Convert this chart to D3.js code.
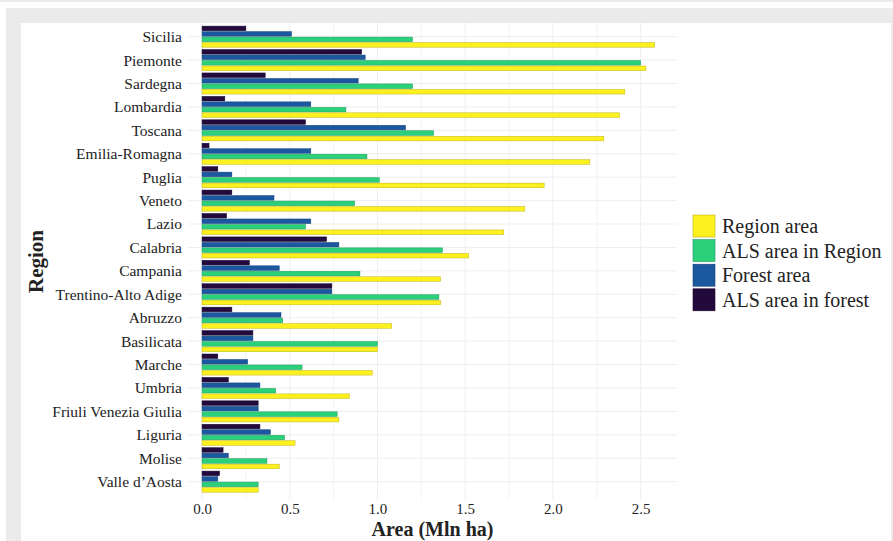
<!DOCTYPE html>
<html>
<head>
<meta charset="utf-8">
<script src="https://cdn.jsdelivr.net/npm/d3@7"></script>
<style>
  body { margin: 0; background: #fff; }
  text { font-family: "Liberation Serif", "Times New Roman", serif; fill: #222; }
</style>
</head>
<body>
<svg id="chart"></svg>
<script>
const regions = ['Sicilia','Piemonte','Sardegna','Lombardia','Toscana','Emilia-Romagna','Puglia','Veneto','Lazio','Calabria','Campania','Trentino-Alto Adige','Abruzzo','Basilicata','Marche','Umbria','Friuli Venezia Giulia','Liguria','Molise','Valle d\u2019Aosta'];

// Mln ha
const regionArea    = [2.58, 2.53, 2.41, 2.38, 2.29, 2.21, 1.95, 1.84, 1.72, 1.52, 1.36, 1.36, 1.08, 1.00, 0.97, 0.84, 0.78, 0.53, 0.44, 0.32];
const alsRegion     = [1.20, 2.50, 1.20, 0.82, 1.32, 0.94, 1.01, 0.87, 0.59, 1.37, 0.90, 1.35, 0.46, 1.00, 0.57, 0.42, 0.77, 0.47, 0.37, 0.32];
const forestArea    = [0.51, 0.93, 0.89, 0.62, 1.16, 0.62, 0.17, 0.41, 0.62, 0.78, 0.44, 0.74, 0.45, 0.29, 0.26, 0.33, 0.32, 0.39, 0.15, 0.09];
const alsForest     = [0.25, 0.91, 0.36, 0.13, 0.59, 0.04, 0.09, 0.17, 0.14, 0.71, 0.27, 0.74, 0.17, 0.29, 0.09, 0.15, 0.32, 0.33, 0.12, 0.10];

const seriesNames  = ['ALS area in forest','Forest area','ALS area in Region','Region area'];
const legendOrder  = ['Region area','ALS area in Region','Forest area','ALS area in forest'];
const xTicks       = [0, 0.5, 1.0, 1.5, 2.0, 2.5];

const seriesValues = {
  'ALS area in forest': alsForest,
  'Forest area': forestArea,
  'ALS area in Region': alsRegion,
  'Region area': regionArea
};
const colour = d3.scaleOrdinal()
  .domain(legendOrder)
  .range(['#fdf01f','#2bd07a','#1c58a0','#220a3c']);

const W = 893, H = 541;
const panel = { left: 188, right: 677, top: 23, bottom: 500 };
const serif = '"Liberation Serif", "Times New Roman", serif';

const svg = d3.select('#chart').attr('width', W).attr('height', H);

// outer frame, as in the reference
svg.append('rect').attr('x', 0).attr('y', 0).attr('width', W).attr('height', 2).attr('fill', '#ebebeb');
svg.append('rect').attr('x', 6).attr('y', 8).attr('width', W - 6).attr('height', H - 8).attr('fill', '#ebebeb');
svg.append('rect').attr('x', 21).attr('y', 23).attr('width', W - 23).attr('height', H - 23).attr('fill', '#fff');

const x = d3.scaleLinear().domain([-0.08, 2.707]).range([panel.left, panel.right]);
const y = d3.scalePoint().domain(regions).range([panel.top - 0.4, panel.bottom - 4.3]).padding(0.6);
const step = y.step();
const inner = d3.scaleBand().domain(seriesNames)
  .range([-0.45 * step, 0.45 * step]).paddingInner(0.16);

const g = svg.append('g');

// grid
const minor = d3.range(0.25, 2.75, 0.5);
g.selectAll('.vgrid').data(xTicks.concat(minor)).join('line')
  .attr('x1', d => x(d)).attr('x2', d => x(d))
  .attr('y1', panel.top).attr('y2', panel.bottom)
  .attr('stroke', '#ececec').attr('stroke-width', d => xTicks.includes(d) ? 0.9 : 0.6);
g.selectAll('.hgrid').data(regions).join('line')
  .attr('x1', panel.left).attr('x2', panel.right)
  .attr('y1', d => y(d)).attr('y2', d => y(d))
  .attr('stroke', '#ececec').attr('stroke-width', 0.9);

// bars
const rows = [];
regions.forEach((r, i) => seriesNames.forEach(s => rows.push({ region: r, series: s, value: seriesValues[s][i] })));

g.selectAll('.bar').data(rows).join('rect')
  .attr('class', 'bar')
  .attr('x', x(0))
  .attr('y', d => y(d.region) + inner(d.series))
  .attr('width', d => x(d.value) - x(0))
  .attr('height', inner.bandwidth())
  .attr('fill', d => colour(d.series))
  .attr('stroke', d => d3.color(colour(d.series)).darker(0.8))
  .attr('stroke-width', 0.5);

// axes
const xAxis = d3.axisBottom(x).tickValues(xTicks).tickFormat(d3.format('.1f')).tickSize(0).tickPadding(3);
const xAxisG = svg.append('g').attr('transform', `translate(0,${panel.bottom})`).call(xAxis);
xAxisG.select('.domain').remove();
xAxisG.selectAll('text').attr('font-size', 15).attr('fill', '#333')
  .style('font-family', serif);

const yAxis = d3.axisLeft(y).tickSize(0).tickPadding(6);
const yAxisG = svg.append('g').attr('transform', `translate(${panel.left},0)`).call(yAxis);
yAxisG.select('.domain').remove();
yAxisG.selectAll('text').attr('font-size', 15.5).attr('fill', '#222')
  .style('font-family', serif);

svg.append('text')
  .attr('x', (panel.left + panel.right) / 2).attr('y', 536)
  .attr('text-anchor', 'middle')
  .attr('font-size', 20).attr('font-weight', 'bold')
  .text('Area (Mln ha)');

svg.append('text')
  .attr('transform', `translate(43,${(panel.top + panel.bottom) / 2}) rotate(-90)`)
  .attr('text-anchor', 'middle')
  .attr('font-size', 21).attr('font-weight', 'bold')
  .text('Region');

// legend
const legend = svg.append('g').attr('transform', 'translate(693,215)');
const item = legend.selectAll('g').data(legendOrder).join('g')
  .attr('transform', (d, i) => `translate(0,${i * 24.6})`);
item.append('rect')
  .attr('width', 22).attr('height', 22)
  .attr('fill', d => colour(d))
  .attr('stroke', d => d3.color(colour(d)).darker(0.8))
  .attr('stroke-width', 0.6);
item.append('text')
  .attr('x', 29).attr('y', 11).attr('dy', '0.35em')
  .attr('font-size', 20)
  .text(d => d);
</script>
</body>
</html>
